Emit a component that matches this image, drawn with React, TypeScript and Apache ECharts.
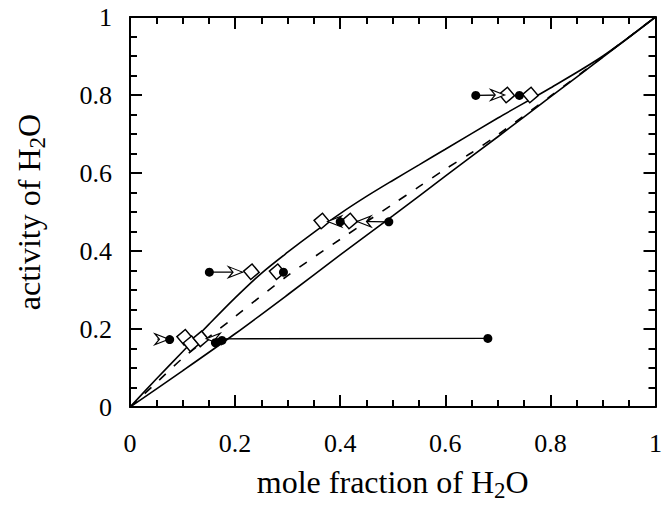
import React, { useEffect, useRef } from "react";
import * as echarts from "echarts";

// axis ticks
const axisMin = 0;
const axisMax = 1;
const majorStep = 0.2;

// model curves: [mole fraction, activity]
const upperCurve: [number, number][] = [
  [0, 0], [0.05, 0.072], [0.1, 0.142], [0.15, 0.212], [0.2, 0.28], [0.25, 0.343],
  [0.3, 0.397], [0.35, 0.448], [0.4, 0.496], [0.45, 0.54], [0.5, 0.581], [0.55, 0.621],
  [0.6, 0.661], [0.7, 0.741], [0.8, 0.818], [0.9, 0.9], [1, 1],
];
const lowerCurve: [number, number][] = [
  [0, 0], [0.1, 0.093], [0.2, 0.188], [0.3, 0.288], [0.4, 0.39], [0.5, 0.49],
  [0.6, 0.592], [0.7, 0.693], [0.8, 0.795], [0.9, 0.897], [1, 1],
];
const dashedCurve: [number, number][] = [
  [0, 0], [0.05, 0.062], [0.1, 0.125], [0.2, 0.232], [0.3, 0.337], [0.4, 0.43],
  [0.5, 0.52], [0.55, 0.565], [0.6, 0.61], [0.65, 0.652], [0.7, 0.698],
  [0.8, 0.797], [0.9, 0.898], [1, 1],
];

// filled circles (initial compositions)
const initialPoints: [number, number][] = [
  [0.0755, 0.173], [0.1625, 0.165], [0.175, 0.171], [0.681, 0.176],
  [0.151, 0.346], [0.292, 0.346], [0.4, 0.475], [0.4925, 0.475],
  [0.658, 0.799], [0.741, 0.799],
];
// open diamonds (final compositions)
const finalPoints: [number, number][] = [
  [0.104, 0.179], [0.116, 0.1625], [0.135, 0.175], [0.231, 0.347], [0.28, 0.347],
  [0.365, 0.477], [0.418, 0.477], [0.717, 0.8], [0.762, 0.8],
];
// arrows: start and tip
const arrowStarts: [number, number][] = [
  [0.052, 0.174], [0.151, 0.346], [0.658, 0.799],
  [0.681, 0.176], [0.4, 0.475], [0.4925, 0.475],
];
const arrowTips: [number, number][] = [
  [0.074, 0.174], [0.214, 0.346], [0.713, 0.8],
  [0.145, 0.175], [0.376, 0.476], [0.432, 0.476],
];

const FONT = '"Liberation Serif", "Times New Roman", serif';
const RIGHT_DART = "path://M0,0L14,5.5L0,11L4.5,5.5Z";
const LEFT_DART = "path://M14,0L0,5.5L14,11L9.5,5.5Z";

export default function App() {
  const ref = useRef<HTMLDivElement>(null);
  useEffect(() => {
    if (!ref.current) return;
    const chart = echarts.init(ref.current, null, { renderer: "svg" });
    const rich = () => ({
      m: { fontFamily: FONT, fontSize: 32, lineHeight: 41, color: "#000" },
      s: { fontFamily: FONT, fontSize: 23, lineHeight: 23, padding: [18, 0, 0, 0], color: "#000" },
    });
    const frameLine = (onZero: boolean) => ({ show: true, onZero, lineStyle: { color: "#000", width: 2 } });
    const baseAxis = (extra: any) => ({
      type: "value",
      min: axisMin,
      max: axisMax,
      interval: majorStep,
      axisTick: { show: true, inside: true, length: 12, lineStyle: { color: "#000", width: 2 } },
      minorTick: { show: true, splitNumber: 4, length: 7, lineStyle: { color: "#000", width: 2 } },
      splitLine: { show: false },
      minorSplitLine: { show: false },
      ...extra,
    });
    const fmt = (v: number) => String(+v.toFixed(1));
    const tickLabel = () => ({ fontFamily: FONT, fontSize: 26, color: "#000", formatter: fmt });

    const rightIdx = arrowStarts.map((s, i) => i).filter((i) => arrowTips[i][0] > arrowStarts[i][0]);
    const leftIdx = arrowStarts.map((s, i) => i).filter((i) => arrowTips[i][0] < arrowStarts[i][0]);

    const curveStyle = (dashed: boolean) => ({
      type: "line",
      smooth: 0.3,
      showSymbol: false,
      symbol: "none",
      silent: true,
      z: 2,
      lineStyle: { color: "#000", width: 1.6, type: dashed ? [9, 11] : "solid" },
    });

    chart.setOption({
      animation: false,
      grid: { left: 127, right: 5, top: 17, bottom: 90 },
      xAxis: [
        baseAxis({
          position: "bottom",
          axisLine: frameLine(true),
          name: "{m|mole fraction of H}{s|2}{m|O}",
          nameLocation: "middle",
          nameGap: 48,
          nameTextStyle: { fontFamily: FONT, fontSize: 32, color: "#000", rich: rich() },
          axisLabel: { ...tickLabel(), margin: 23 },
        }),
        baseAxis({ position: "top", axisLine: frameLine(false), axisLabel: { show: false } }),
      ],
      yAxis: [
        baseAxis({
          position: "left",
          axisLine: frameLine(false),
          name: "{m|activity of H}{s|2}{m|O}",
          nameLocation: "middle",
          nameGap: 81,
          nameTextStyle: { fontFamily: FONT, fontSize: 32, color: "#000", rich: rich() },
          axisLabel: { ...tickLabel(), margin: 18 },
        }),
        baseAxis({ position: "right", axisLine: frameLine(false), axisLabel: { show: false } }),
      ],
      series: [
        { ...curveStyle(false), data: upperCurve },
        { ...curveStyle(false), data: lowerCurve },
        { ...curveStyle(true), data: dashedCurve },
        ...arrowStarts.map((s, i) => ({
          type: "line",
          data: [s, arrowTips[i]],
          symbol: "none",
          silent: true,
          z: 3,
          lineStyle: { color: "#000", width: 1.3 },
        })),
        {
          type: "scatter",
          data: finalPoints,
          symbol: "rect",
          symbolSize: 11,
          symbolRotate: 40,
          z: 4,
          itemStyle: { color: "#fff", borderColor: "#000", borderWidth: 1.5, opacity: 1 },
        },
        {
          type: "scatter",
          data: rightIdx.map((i) => arrowTips[i]),
          symbol: RIGHT_DART,
          symbolSize: [14, 11],
          symbolOffset: [-7, 0],
          z: 5,
          itemStyle: { color: "#fff", borderColor: "#000", borderWidth: 1.2, opacity: 1 },
        },
        {
          type: "scatter",
          data: leftIdx.map((i) => arrowTips[i]),
          symbol: LEFT_DART,
          symbolSize: [14, 11],
          symbolOffset: [7, 0],
          z: 5,
          itemStyle: { color: "#fff", borderColor: "#000", borderWidth: 1.2, opacity: 1 },
        },
        {
          type: "scatter",
          data: initialPoints,
          symbol: "circle",
          symbolSize: 9,
          z: 6,
          itemStyle: { color: "#000", opacity: 1 },
        },
      ],
    });
    return () => chart.dispose();
  }, []);
  return (
    <div
      ref={ref}
      style={{ position: "absolute", left: 0, top: 0, width: 665, height: 507 }}
    />
  );
}
